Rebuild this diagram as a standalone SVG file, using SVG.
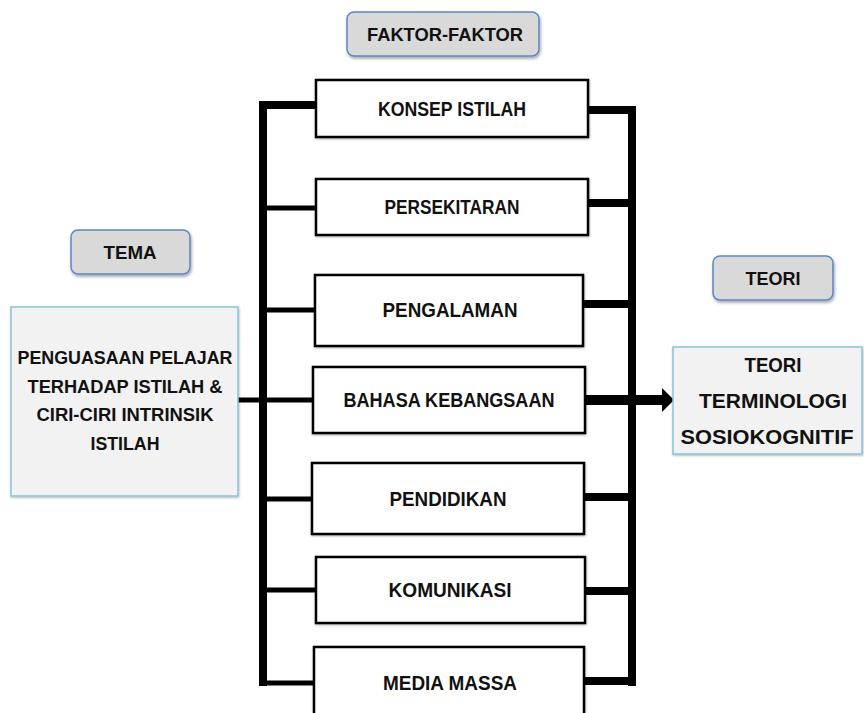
<svg xmlns="http://www.w3.org/2000/svg" width="864" height="713" viewBox="0 0 864 713">
<defs>
<filter id="sh" x="-10%" y="-10%" width="130%" height="140%">
<feDropShadow dx="1" dy="2" stdDeviation="1.5" flood-color="#000" flood-opacity="0.35"/>
</filter>
<filter id="sh2" x="-5%" y="-5%" width="110%" height="120%">
<feDropShadow dx="0.5" dy="1" stdDeviation="0.8" flood-color="#000" flood-opacity="0.3"/>
</filter>
</defs>
<style>
text{font-family:"Liberation Sans",Arial,sans-serif;font-weight:bold;fill:#111;text-anchor:middle}
.lbl{fill:#d9d9d9;stroke:#5a87c8;stroke-width:1.5}
.big{fill:#f2f2f2;stroke:#86c6da;stroke-width:1.5}
.fac{fill:#fff;stroke:#000;stroke-width:2.5}
.t19{font-size:19px}
.t20{font-size:20px}
.t21{font-size:21px}
.thin{stroke:#000;stroke-width:5;fill:none}
.thick{stroke:#000;stroke-width:8;fill:none}
</style>
<rect width="864" height="713" fill="#fff"/>

<g id="connectors">
<line class="thick" x1="263" y1="101" x2="263" y2="686"/>
<line class="thick" x1="632" y1="106" x2="632" y2="686"/>
<line class="thick" x1="259" y1="105" x2="316" y2="105"/>
<line class="thin" x1="263" y1="208" x2="316" y2="208"/>
<line class="thin" x1="263" y1="310" x2="316" y2="310"/>
<line class="thin" x1="238" y1="400" x2="316" y2="400"/>
<line class="thin" x1="263" y1="499" x2="314" y2="499"/>
<line class="thin" x1="263" y1="590" x2="316" y2="590"/>
<line class="thin" x1="260" y1="683" x2="314" y2="683"/>
<line class="thick" x1="588" y1="110" x2="636" y2="110"/>
<line class="thick" x1="588" y1="203" x2="636" y2="203"/>
<line class="thick" x1="584" y1="304" x2="636" y2="304"/>
<line class="thick" x1="584" y1="497" x2="636" y2="497"/>
<line class="thick" x1="585" y1="591" x2="636" y2="591"/>
<line class="thick" x1="584" y1="681" x2="636" y2="681"/>
<line stroke="#000" stroke-width="10" x1="585" y1="400" x2="664" y2="400"/>
<polygon points="662,388 674,400 662,412" fill="#000"/>
</g>

<g id="faktor-label">
<rect class="lbl" x="347" y="12" width="192" height="44" rx="7" filter="url(#sh)"/>
<text class="t19" x="445" y="41" textLength="156" lengthAdjust="spacingAndGlyphs">FAKTOR-FAKTOR</text>
</g>

<g id="tema-label">
<rect class="lbl" x="71" y="230" width="119" height="44" rx="7" filter="url(#sh)"/>
<text class="t19" x="130" y="259" textLength="53" lengthAdjust="spacingAndGlyphs">TEMA</text>
</g>

<g id="teori-label">
<rect class="lbl" x="713" y="256" width="120" height="44" rx="7" filter="url(#sh)"/>
<text class="t19" x="773" y="285" textLength="55" lengthAdjust="spacingAndGlyphs">TEORI</text>
</g>

<g id="tema">
<rect class="big" x="11" y="307" width="227" height="189" filter="url(#sh2)"/>
<text class="t19" x="125" y="364" textLength="215" lengthAdjust="spacingAndGlyphs">PENGUASAAN PELAJAR</text>
<text class="t19" x="125" y="393" textLength="195" lengthAdjust="spacingAndGlyphs">TERHADAP ISTILAH &amp;</text>
<text class="t19" x="125" y="421" textLength="177" lengthAdjust="spacingAndGlyphs">CIRI-CIRI INTRINSIK</text>
<text class="t19" x="125" y="450" textLength="69" lengthAdjust="spacingAndGlyphs">ISTILAH</text>
</g>

<g id="teori">
<rect class="big" x="673" y="347" width="189" height="107" filter="url(#sh2)"/>
<text class="t21" x="773" y="372" textLength="57" lengthAdjust="spacingAndGlyphs">TEORI</text>
<text class="t21" x="773" y="408" textLength="148" lengthAdjust="spacingAndGlyphs">TERMINOLOGI</text>
<text class="t21" x="767" y="444" textLength="173" lengthAdjust="spacingAndGlyphs">SOSIOKOGNITIF</text>
</g>

<g id="konsep-istilah">
<rect class="fac" x="316" y="80" width="272" height="57" filter="url(#sh2)"/>
<text class="t20" x="452" y="116" textLength="148" lengthAdjust="spacingAndGlyphs">KONSEP ISTILAH</text>
</g>
<g id="persekitaran">
<rect class="fac" x="316" y="179" width="272" height="56" filter="url(#sh2)"/>
<text class="t20" x="452" y="214" textLength="135" lengthAdjust="spacingAndGlyphs">PERSEKITARAN</text>
</g>
<g id="pengalaman">
<rect class="fac" x="315" y="275" width="268" height="71" filter="url(#sh2)"/>
<text class="t20" x="450" y="317" textLength="135" lengthAdjust="spacingAndGlyphs">PENGALAMAN</text>
</g>
<g id="bahasa-kebangsaan">
<rect class="fac" x="313" y="367" width="272" height="66" filter="url(#sh2)"/>
<text class="t20" x="449" y="407" textLength="211" lengthAdjust="spacingAndGlyphs">BAHASA KEBANGSAAN</text>
</g>
<g id="pendidikan">
<rect class="fac" x="312" y="463" width="272" height="71" filter="url(#sh2)"/>
<text class="t20" x="448" y="506" textLength="117" lengthAdjust="spacingAndGlyphs">PENDIDIKAN</text>
</g>
<g id="komunikasi">
<rect class="fac" x="316" y="557" width="269" height="66" filter="url(#sh2)"/>
<text class="t20" x="450" y="597" textLength="123" lengthAdjust="spacingAndGlyphs">KOMUNIKASI</text>
</g>
<g id="media-massa">
<rect class="fac" x="314" y="647" width="270" height="80" filter="url(#sh2)"/>
<text class="t20" x="450" y="690" textLength="134" lengthAdjust="spacingAndGlyphs">MEDIA MASSA</text>
</g>
</svg>
